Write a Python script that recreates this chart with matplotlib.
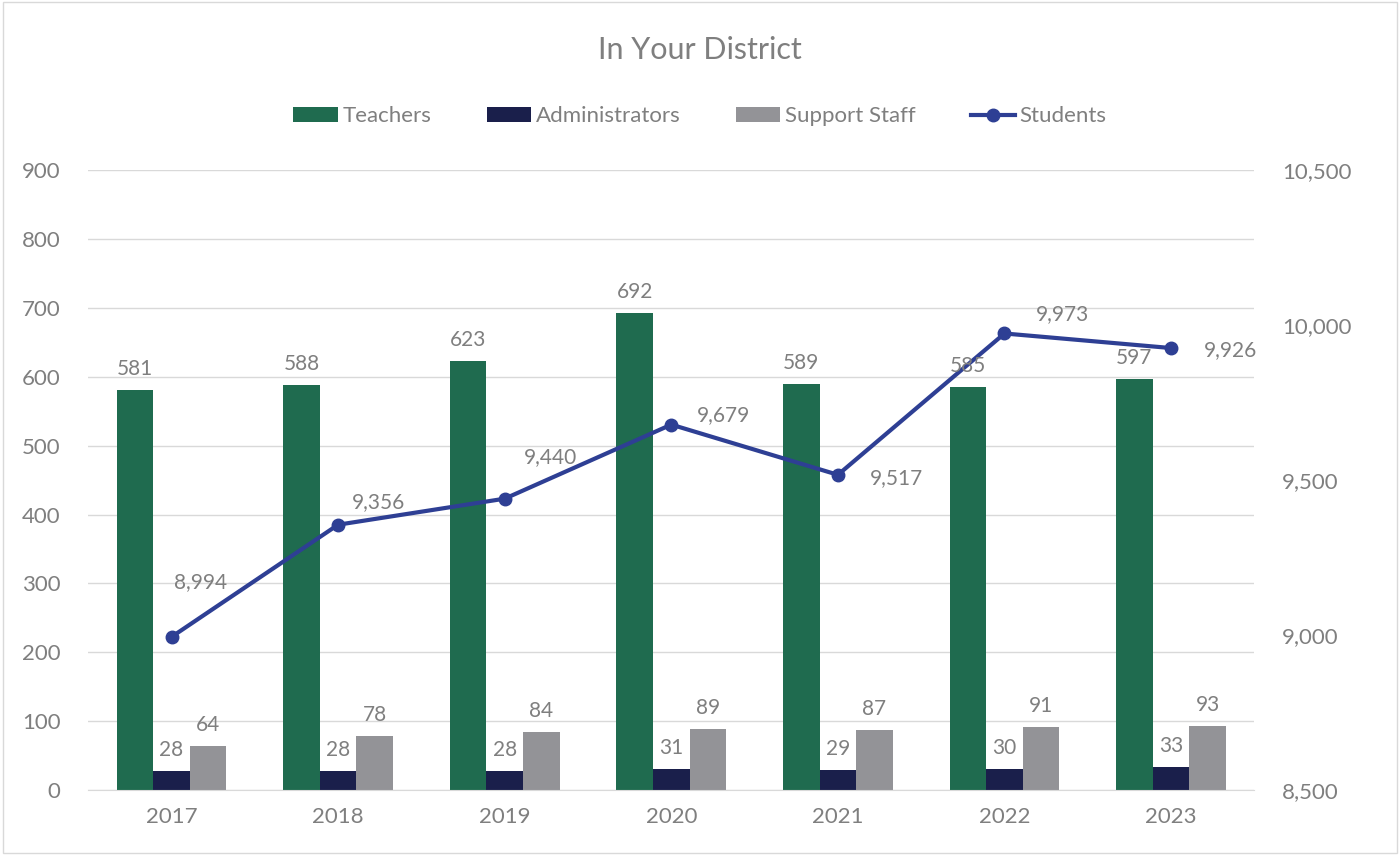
import numpy as np
import matplotlib.pyplot as plt
from matplotlib.patches import Rectangle

years = ['2017', '2018', '2019', '2020', '2021', '2022', '2023']
teachers = [581, 588, 623, 692, 589, 585, 597]
admins = [28, 28, 28, 31, 29, 30, 33]
support = [64, 78, 84, 89, 87, 91, 93]
students = [8994, 9356, 9440, 9679, 9517, 9973, 9926]

# label offsets for the student line (pixels, hand placed like in the original)
stu_off = [(29, 55), (40, 23), (46, 42), (52, 10), (59, -3), (58, 19), (59, -2)]

plt.rcParams['font.family'] = ['Lato', 'DejaVu Sans']
grey = '#7f7f7f'

fig = plt.figure(figsize=(14, 8.55), dpi=100)
fig.patches.append(Rectangle((0.002, 0.002), 0.996, 0.996, transform=fig.transFigure,
                             fill=False, edgecolor='#d9d9d9', linewidth=1))
ax = fig.add_axes([0.063, 0.076, 0.833, 0.725])
ax2 = ax.twinx()

x = np.arange(len(years))
w = 0.22
c_t, c_a, c_s, c_l = '#1f6b4f', '#1a1f4b', '#939397', '#2e3f94'

b1 = ax.bar(x - w, teachers, w, color=c_t, zorder=2)
b2 = ax.bar(x, admins, w, color=c_a, zorder=2)
b3 = ax.bar(x + w, support, w, color=c_s, zorder=2)

ax.set_ylim(0, 900)
ax.set_yticks(range(0, 901, 100))
ax.set_xlim(-0.5, 6.5)
ax.set_xticks(x, years)
ax.grid(axis='y', color='#d9d9d9', linewidth=1, zorder=0)
ax.set_axisbelow(True)

ax2.plot(x, students, color=c_l, linewidth=3, marker='o', markersize=9, zorder=3)
for xi, v, (dx, dy) in zip(x, students, stu_off):
    ax2.annotate(f'{v:,}', (xi, v), xytext=(dx, dy), textcoords='offset pixels',
                 ha='center', va='center', color=grey, fontsize=15)
ax2.set_ylim(8500, 10500)
ax2.set_yticks([8500, 9000, 9500, 10000, 10500])
ax2.set_yticklabels([f'{v:,}' for v in [8500, 9000, 9500, 10000, 10500]])

# bar labels go on ax2 so they sit on top of the line (as in excel)
for vals, off in ((teachers, -w), (admins, 0), (support, w)):
    for xi, v in zip(x, vals):
        ax2.annotate(str(v), (xi + off, v), xycoords=ax.transData, xytext=(0, 8),
                     textcoords='offset points', ha='center', va='bottom',
                     color=grey, fontsize=15, zorder=5)

for a in (ax, ax2):
    for s in a.spines.values():
        s.set_visible(False)
    a.tick_params(length=0, colors=grey, labelsize=16)
ax.spines['bottom'].set_visible(True)
ax.spines['bottom'].set_color('#d9d9d9')
ax.tick_params(axis='x', pad=12)
ax.tick_params(axis='y', pad=20)
ax2.tick_params(axis='y', pad=20)

handles = [b1, b2, b3, ax2.lines[0]]
fig.legend(handles, ['Teachers', 'Administrators', 'Support Staff', 'Students'],
           loc='center', bbox_to_anchor=(0.5, 0.864), ncol=4, frameon=False,
           fontsize=16, labelcolor=grey, handlelength=2.0, handletextpad=0.2,
           columnspacing=2.5)
fig.suptitle('In Your District', y=0.958, color=grey, fontsize=22)

fig.savefig('out.png')
